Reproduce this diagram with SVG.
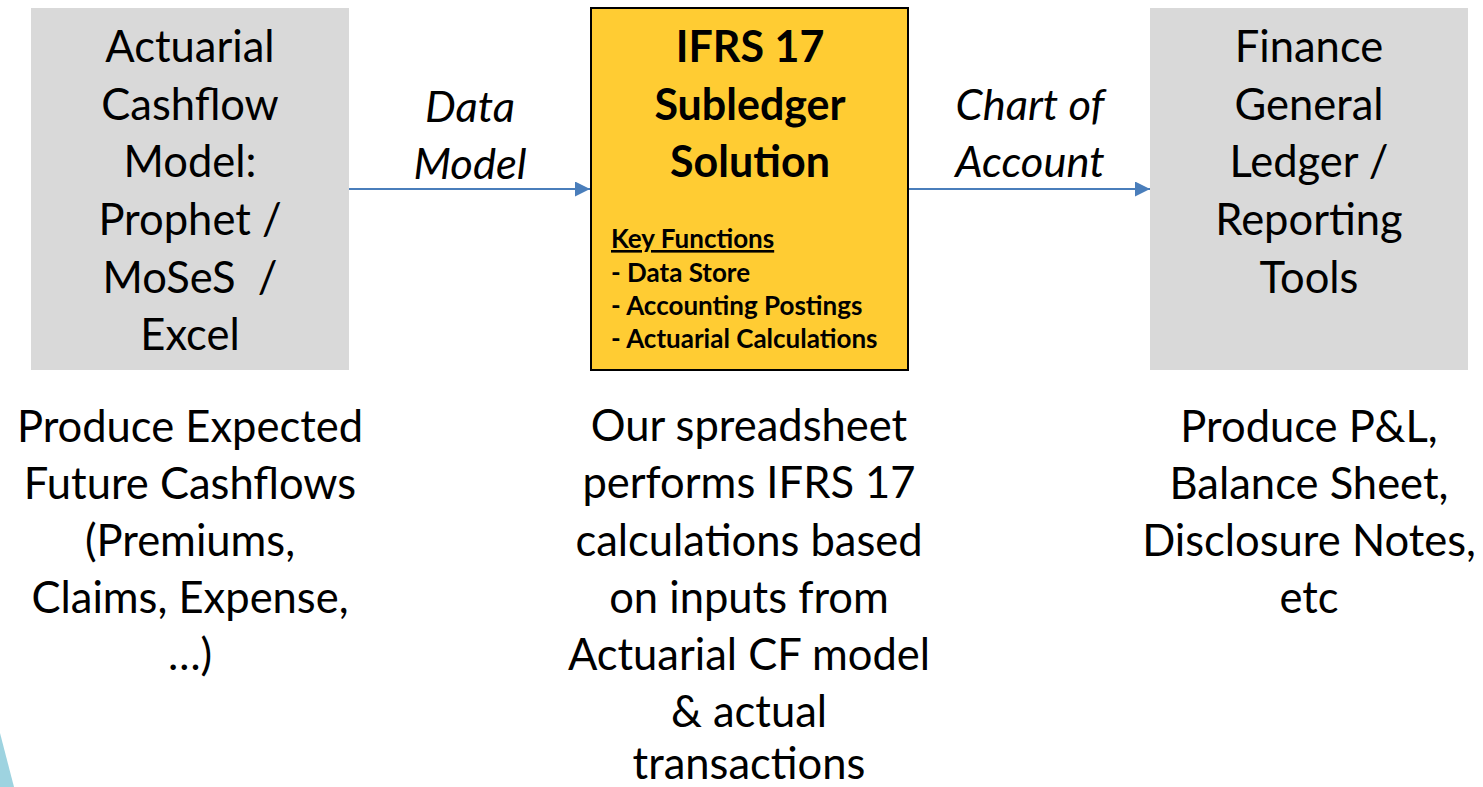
<svg xmlns="http://www.w3.org/2000/svg" width="1483" height="787" viewBox="0 0 1483 787">
  <style>
    .t { font-family: Lato, "Open Sans", "Liberation Sans", sans-serif; font-size: 43.5px; fill: #000; text-anchor: middle; }
    .it { font-family: Lato, "Open Sans", "Liberation Sans", sans-serif; font-size: 43.5px; font-style: italic; fill: #000; text-anchor: middle; }
    .b { font-family: Lato, "Open Sans", "Liberation Sans", sans-serif; font-size: 43px; font-weight: bold; fill: #000; text-anchor: middle; }
    .k { font-family: Lato, "Open Sans", "Liberation Sans", sans-serif; font-size: 26px; font-weight: bold; fill: #000; }
    .gray { fill: #d9d9d9; }
    .conn { stroke: #4a7ebb; stroke-width: 2; fill: none; }
  </style>
  <defs>
    <marker id="arr" viewBox="0 0 10 10" refX="10" refY="5" markerWidth="7.5" markerHeight="7.5" markerUnits="strokeWidth" orient="auto">
      <path d="M0,0 L10,5 L0,10 z" fill="#4a7ebb"/>
    </marker>
  </defs>
  <rect width="1483" height="787" fill="#ffffff"/>
  <polygon points="0,733 14,787 0,787" fill="#9ed3e0"/>

  <g id="connectors">
    <line class="conn" x1="349" y1="189" x2="590" y2="189" marker-end="url(#arr)"/>
    <line class="conn" x1="909" y1="189" x2="1150" y2="189" marker-end="url(#arr)"/>
    <text class="it" x="470" y="122">Data</text>
    <text class="it" x="470" y="179">Model</text>
    <text class="it" x="1030" y="120">Chart of</text>
    <text class="it" x="1030" y="177">Account</text>
  </g>

  <g id="node-actuarial">
    <rect class="gray" x="31" y="8" width="318" height="362"/>
    <text class="t" x="190" y="62">Actuarial</text>
    <text class="t" x="190" y="120">Cashflow</text>
    <text class="t" x="190" y="177">Model:</text>
    <text class="t" x="190" y="235">Prophet /</text>
    <text class="t" x="190" y="293" xml:space="preserve">MoSeS  /</text>
    <text class="t" x="190" y="350">Excel</text>
  </g>

  <g id="node-subledger">
    <rect x="591" y="8" width="317" height="362" fill="#ffcc33" stroke="#000" stroke-width="2"/>
    <text class="b" x="750" y="62">IFRS 17</text>
    <text class="b" x="750" y="120">Subledger</text>
    <text class="b" x="750" y="177">Solution</text>
    <text class="k" x="611" y="248" text-decoration="underline">Key Functions</text>
    <text class="k" x="611" y="282">- Data Store</text>
    <text class="k" x="611" y="315">- Accounting Postings</text>
    <text class="k" x="611" y="348">- Actuarial Calculations</text>
  </g>

  <g id="node-ledger">
    <rect class="gray" x="1150" y="8" width="318" height="362"/>
    <text class="t" x="1309" y="62">Finance</text>
    <text class="t" x="1309" y="120">General</text>
    <text class="t" x="1309" y="177">Ledger /</text>
    <text class="t" x="1309" y="235">Reporting</text>
    <text class="t" x="1309" y="293">Tools</text>
  </g>

  <g id="note-actuarial">
    <text class="t" x="190" y="442">Produce Expected</text>
    <text class="t" x="190" y="499">Future Cashflows</text>
    <text class="t" x="190" y="556">(Premiums,</text>
    <text class="t" x="190" y="613">Claims, Expense,</text>
    <text class="t" x="190" y="670">…)</text>
  </g>

  <g id="note-subledger">
    <text class="t" x="749" y="441">Our spreadsheet</text>
    <text class="t" x="749" y="498">performs IFRS 17</text>
    <text class="t" x="749" y="556">calculations based</text>
    <text class="t" x="749" y="613">on inputs from</text>
    <text class="t" x="749" y="670">Actuarial CF model</text>
    <text class="t" x="749" y="727">&amp; actual</text>
    <text class="t" x="749" y="779">transactions</text>
  </g>

  <g id="note-ledger">
    <text class="t" x="1309" y="442">Produce P&amp;L,</text>
    <text class="t" x="1309" y="499">Balance Sheet,</text>
    <text class="t" x="1309" y="556">Disclosure Notes,</text>
    <text class="t" x="1309" y="613">etc</text>
  </g>
</svg>
